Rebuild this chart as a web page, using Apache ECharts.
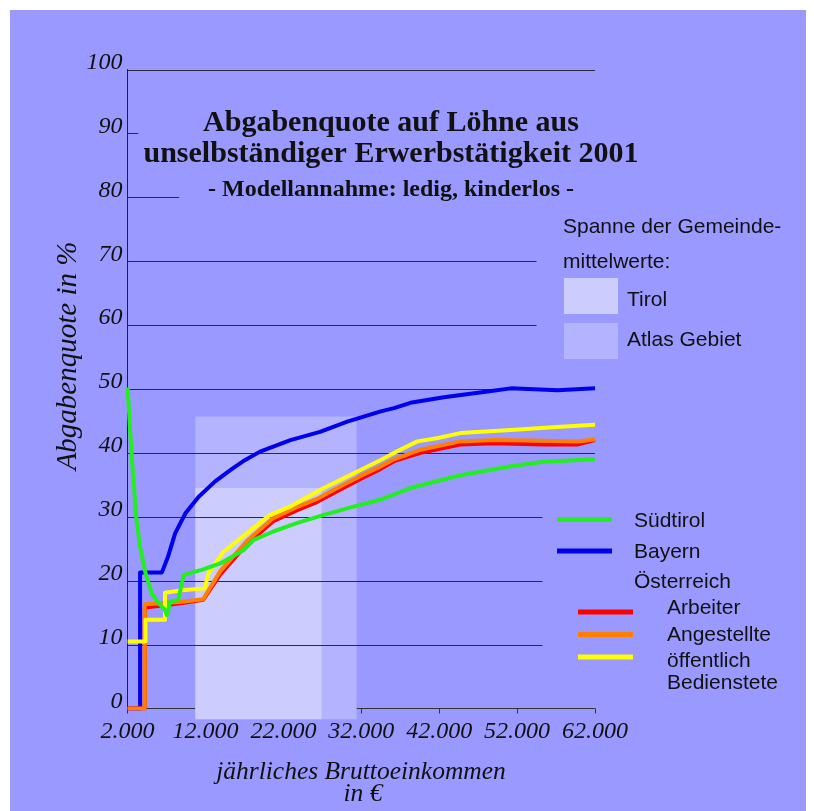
<!DOCTYPE html>
<html><head><meta charset="utf-8">
<script src="https://cdn.jsdelivr.net/npm/echarts@6/dist/echarts.min.js"></script>
<style>html,body{margin:0;padding:0;background:#fff}#c{width:814px;height:811px}</style>
</head><body><div id="c"></div>
<script>
// ---- data ----
const xTickLabels = ['2.000','12.000','22.000','32.000','42.000','52.000','62.000'];
const yTickLabels = ['0','10','20','30','40','50','60','70','80','90','100'];

const suedtirol = [[2000,50.2],[2500,40],[3100,30],[3600,25.3],[4300,21.2],[5100,18],[6000,16.5],[6800,15.4],[7050,14.6],[7450,16.7],[8500,17],[9200,20.9],[11500,21.7],[13900,22.7],[16900,24.8],[18200,26.4],[20700,27.7],[23700,29],[27200,30.3],[31000,31.6],[34500,32.7],[38300,34.5],[44700,36.5],[51200,37.9],[55400,38.6],[62000,39.0]];
const bayern = [[2000,0],[3600,0],[3600,21.3],[6400,21.3],[7200,23.8],[8100,27.4],[9400,30.5],[11100,33.1],[13200,35.5],[15400,37.5],[17100,38.9],[19000,40.2],[22900,42.0],[26700,43.3],[30200,44.9],[34500,46.5],[36200,47.0],[38500,47.9],[42600,48.7],[48200,49.6],[51200,50.1],[57200,49.8],[62000,50.1]];
const arbeiter = [[2000,0],[4200,0],[4200,15.8],[7000,16.2],[9000,16.5],[11700,17.0],[13900,21.0],[17300,25.7],[20700,29.3],[23700,31.0],[26300,32.3],[28900,34.0],[31900,35.9],[34500,37.5],[36200,38.7],[39600,40.0],[44700,41.3],[49000,41.5],[55400,41.3],[59700,41.3],[62000,42.0]];
const angestellte = [[2000,0],[4200,0],[4200,16.3],[7000,16.5],[9000,16.7],[11700,17.1],[13900,21.5],[17300,26.2],[20700,29.8],[23700,31.5],[26300,32.8],[28900,34.5],[31900,36.4],[34500,37.9],[36200,39.0],[39600,40.5],[44700,41.8],[49000,42.0],[55400,41.9],[59700,41.8],[62000,42.1]];
const oeffentlich = [[2000,10.5],[4300,10.5],[4300,13.9],[6800,13.9],[6800,18.1],[9000,18.5],[11900,18.8],[12400,21.2],[14300,24.5],[17300,27.4],[20300,30.3],[22900,31.6],[27200,34.5],[30200,36.3],[34500,38.9],[36200,40.0],[39200,41.8],[41700,42.3],[44700,43.1],[51200,43.6],[57600,44.1],[62000,44.4]];

// span of municipal means: [xFrom, xTo, yFrom, yTo]
const spanAtlas = [10700, 31400, -1.7, 45.7];
const spanTirol = [10700, 26900, -1.7, 34.5];

// reference lines: value and x end
const gridValues = [100, 90, 80, 70, 60, 50, 40, 30, 20, 10];
const gridEnds   = [62000, 3370, 8630, 54500, 54500, 62000, 62000, 55250, 55250, 55250];

// ---- chart ----
const serif = "'Liberation Serif', 'DejaVu Serif', serif";
const sans = "'Liberation Sans', Arial, sans-serif";
const chart = echarts.init(document.getElementById('c'), null, {renderer:'canvas'});

function rectSeries(span, color){
  return {
    type:'custom', z:1, silent:true, clip:false,
    encode:{x:[0,1], y:[2,3]},
    data:[span],
    renderItem(params, api){
      const p0 = api.coord([api.value(0), api.value(3)]);
      const p1 = api.coord([api.value(1), api.value(2)]);
      return {type:'rect', shape:{x:p0[0], y:p0[1], width:p1[0]-p0[0], height:p1[1]-p0[1]}, style:{fill:color}};
    }
  };
}
function lineSeries(name, data, color){
  return {name, type:'line', data, showSymbol:false, symbol:'none', z:3,
    lineStyle:{width:4, color, join:'round'}, itemStyle:{color}, silent:true, animation:false};
}

const option = {
  animation:false,
  backgroundColor:'#ffffff',
  grid:{left:127.6, right:219, top:69.5, bottom:102.5, containLabel:false},
  xAxis:{type:'value', min:2000, max:62000, interval:10000,
    axisLine:{show:true, lineStyle:{color:'#333', width:1}},
    axisTick:{show:true, length:5, lineStyle:{color:'#333'}},
    splitLine:{show:false},
    axisLabel:{margin:11, fontFamily:serif, fontStyle:'italic', fontSize:24, color:'#111',
      formatter:(v)=>xTickLabels[Math.round((v-2000)/10000)]}
  },
  yAxis:{type:'value', min:0, max:100, interval:10,
    axisLine:{show:true, lineStyle:{color:'#222', width:1}},
    axisTick:{show:false}, splitLine:{show:false},
    axisLabel:{margin:5, fontFamily:serif, fontStyle:'italic', fontSize:24, color:'#111',
      verticalAlign:'bottom', lineHeight:14,
      formatter:(v)=>yTickLabels[Math.round(v/10)]}
  },
  graphic:[
    {type:'rect', z:-10, shape:{x:10, y:10, width:796, height:801}, style:{fill:'#9999ff'}},
    {type:'text', style:{x:391, y:123, text:'Abgabenquote auf Löhne aus', font:"bold 30px "+serif, fill:'#111', textAlign:'center', textVerticalAlign:'middle'}},
    {type:'text', style:{x:391, y:154, text:'unselbständiger Erwerbstätigkeit 2001', font:"bold 30px "+serif, fill:'#111', textAlign:'center', textVerticalAlign:'middle'}},
    {type:'text', style:{x:391, y:190, text:'- Modellannahme: ledig, kinderlos -', font:"bold 24px "+serif, fill:'#111', textAlign:'center', textVerticalAlign:'middle'}},
    {type:'text', rotation:Math.PI/2, x:68, y:356, style:{x:0, y:0, text:'Abgabenquote in %', font:"italic 29px "+serif, fill:'#111', textAlign:'center', textVerticalAlign:'middle'}},
    {type:'text', style:{x:361, y:772, text:'jährliches Bruttoeinkommen', font:"italic 25.5px "+serif, fill:'#111', textAlign:'center', textVerticalAlign:'middle'}},
    {type:'text', style:{x:363, y:794, text:'in €', font:"italic 25.5px "+serif, fill:'#111', textAlign:'center', textVerticalAlign:'middle'}},
    // span legend
    {type:'text', style:{x:563, y:227, text:'Spanne der Gemeinde-', font:"21px "+sans, fill:'#111', textVerticalAlign:'middle'}},
    {type:'text', style:{x:563, y:262, text:'mittelwerte:', font:"21px "+sans, fill:'#111', textVerticalAlign:'middle'}},
    {type:'rect', shape:{x:564, y:278, width:54, height:36}, style:{fill:'#ccccff'}},
    {type:'text', style:{x:627, y:300, text:'Tirol', font:"21px "+sans, fill:'#111', textVerticalAlign:'middle'}},
    {type:'rect', shape:{x:564, y:323, width:54, height:36}, style:{fill:'#b3b3ff'}},
    {type:'text', style:{x:627, y:340, text:'Atlas Gebiet', font:"21px "+sans, fill:'#111', textVerticalAlign:'middle'}},
    // line legend
    {type:'line', shape:{x1:557, y1:519.5, x2:612, y2:519.5}, style:{stroke:'#22ee22', lineWidth:5}},
    {type:'text', style:{x:634, y:521, text:'Südtirol', font:"21px "+sans, fill:'#111', textVerticalAlign:'middle'}},
    {type:'line', shape:{x1:557, y1:551, x2:612, y2:551}, style:{stroke:'#0000ee', lineWidth:5}},
    {type:'text', style:{x:634, y:552, text:'Bayern', font:"21px "+sans, fill:'#111', textVerticalAlign:'middle'}},
    {type:'text', style:{x:634, y:582, text:'Österreich', font:"21px "+sans, fill:'#111', textVerticalAlign:'middle'}},
    {type:'line', shape:{x1:578, y1:612, x2:633, y2:612}, style:{stroke:'#ff0000', lineWidth:5}},
    {type:'text', style:{x:667, y:608, text:'Arbeiter', font:"21px "+sans, fill:'#111', textVerticalAlign:'middle'}},
    {type:'line', shape:{x1:578, y1:634.5, x2:633, y2:634.5}, style:{stroke:'#ff7f00', lineWidth:5}},
    {type:'text', style:{x:667, y:635, text:'Angestellte', font:"21px "+sans, fill:'#111', textVerticalAlign:'middle'}},
    {type:'line', shape:{x1:578, y1:657, x2:633, y2:657}, style:{stroke:'#ffff00', lineWidth:5}},
    {type:'text', style:{x:667, y:661, text:'öffentlich', font:"21px "+sans, fill:'#111', textVerticalAlign:'middle'}},
    {type:'text', style:{x:667, y:683, text:'Bedienstete', font:"21px "+sans, fill:'#111', textVerticalAlign:'middle'}}
  ],
  series:[
    rectSeries(spanAtlas, '#b3b3ff'),
    rectSeries(spanTirol, '#ccccff'),
    {type:'custom', z:2, silent:true, clip:false,
      encode:{x:1, y:0},
      data:gridValues.map((v,i)=>[v, gridEnds[i]]),
      renderItem(params, api){
        const a = api.coord([2000, api.value(0)]);
        const b = api.coord([api.value(1), api.value(0)]);
        return {type:'line', shape:{x1:a[0], y1:Math.round(a[1])+0.5, x2:b[0], y2:Math.round(b[1])+0.5}, style:{stroke:'#2a2a3a', lineWidth:1}};
      }
    },
    lineSeries('Bayern', bayern, '#0000ee'),
    lineSeries('Arbeiter', arbeiter, '#ff0000'),
    lineSeries('Angestellte', angestellte, '#ff7f00'),
    lineSeries('öffentlich Bedienstete', oeffentlich, '#ffff00'),
    lineSeries('Südtirol', suedtirol, '#22ee22')
  ]
};
chart.setOption(option);
</script></body></html>
